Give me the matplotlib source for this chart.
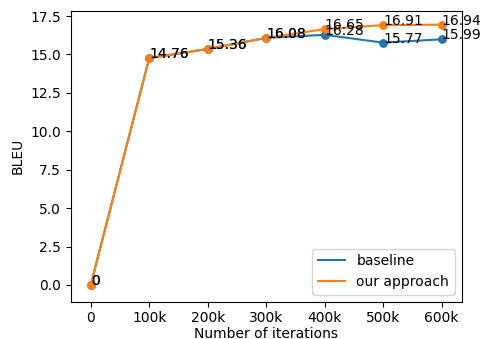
import matplotlib
matplotlib.use("Agg")
import matplotlib.pyplot as plt

iterations = [0, 100000, 200000, 300000, 400000, 500000, 600000]
tick_labels = ["0", "100k", "200k", "300k", "400k", "500k", "600k"]
baseline = [0, 14.76, 15.36, 16.08, 16.28, 15.77, 15.99]
our_approach = [0, 14.76, 15.36, 16.08, 16.65, 16.91, 16.94]

DPI = 100
W, H = 482, 339
plt.rcParams["font.size"] = 10

fig = plt.figure(figsize=(W / DPI, H / DPI), dpi=DPI)
ax = fig.add_axes([70.7 / W, 1 - 301.7 / H, 391 / W, 290.7 / H])

for name, vals in [("baseline", baseline), ("our approach", our_approach)]:
    line, = ax.plot(iterations, vals, label=name)
    ax.scatter(iterations, vals, s=28, color=line.get_color())
    for x, y in zip(iterations, vals):
        ax.text(x, y, f"{y:g}", fontsize=10)

ax.set_xlim(-34200, 634200)
ax.set_ylim(-1.09, 17.83)
ax.set_xticks(iterations)
ax.set_xticklabels(tick_labels)
ax.set_xlabel("Number of iterations", labelpad=1)
ax.set_ylabel("BLEU")
ax.legend(loc="lower right")

fig.savefig("out.png", dpi=DPI)
